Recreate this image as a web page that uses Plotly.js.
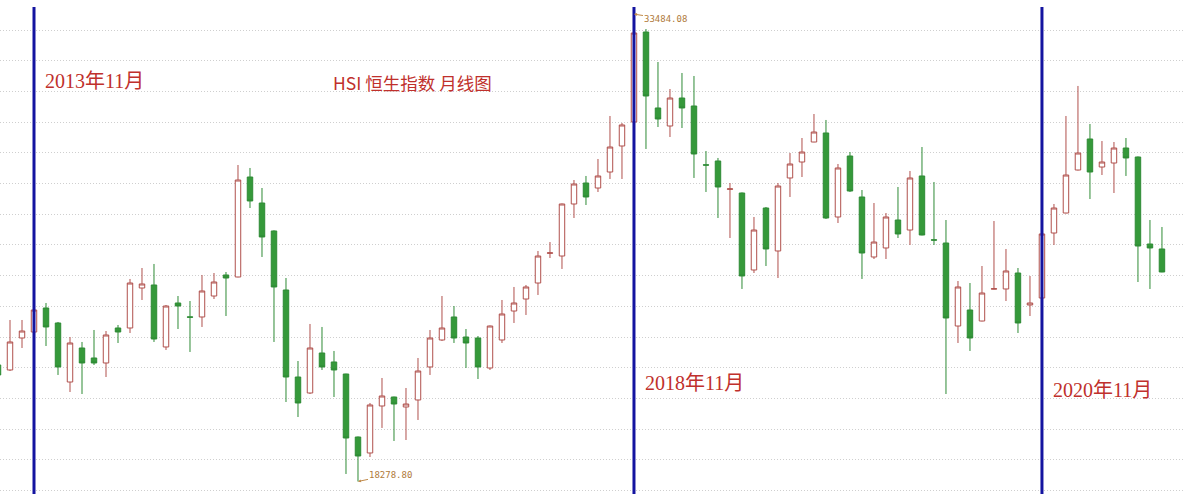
<!DOCTYPE html>
<html>
<head>
<meta charset="utf-8">
<script src="https://cdn.plot.ly/plotly-3.0.1.min.js"></script>
<style>html,body{margin:0;padding:0;background:#fff;}#chart{width:1185px;height:500px;}</style>
</head>
<body>
<div id="chart"></div>
<script>
// Monthly candles, HSI (Hang Seng Index)
const months = [
  '2013-08','2013-09','2013-10','2013-11','2013-12',
  '2014-01','2014-02','2014-03','2014-04','2014-05','2014-06','2014-07','2014-08','2014-09','2014-10','2014-11','2014-12',
  '2015-01','2015-02','2015-03','2015-04','2015-05','2015-06','2015-07','2015-08','2015-09','2015-10','2015-11','2015-12',
  '2016-01','2016-02','2016-03','2016-04','2016-05','2016-06','2016-07','2016-08','2016-09','2016-10','2016-11','2016-12',
  '2017-01','2017-02','2017-03','2017-04','2017-05','2017-06','2017-07','2017-08','2017-09','2017-10','2017-11','2017-12',
  '2018-01','2018-02','2018-03','2018-04','2018-05','2018-06','2018-07','2018-08','2018-09','2018-10','2018-11','2018-12',
  '2019-01','2019-02','2019-03','2019-04','2019-05','2019-06','2019-07','2019-08','2019-09','2019-10','2019-11','2019-12',
  '2020-01','2020-02','2020-03','2020-04','2020-05','2020-06','2020-07','2020-08','2020-09','2020-10','2020-11','2020-12',
  '2021-01','2021-02','2021-03','2021-04','2021-05','2021-06','2021-07','2021-08','2021-09'
];
const openV = [22194,22026,23101,23302,24109,23605,21622,22765,22429,22261,23437,23437,24781,24882,22799,24277,23810,23807,24512,25218,
  25151,28511,27637,26697,24714,21790,21253,22597,22295,21891,19774,19237,20816,21118,20783,21018,22127,23034,23807,23134,
  23101,22093,23034,24008,24411,24949,25950,25856,27604,28309,28141,28679,29553,30359,33383,30830,30225,31165,30897,28920,
  29049,28100,27973,25386,27469,26025,28478,29015,29687,29990,27167,29216,27839,25823,26126,27066,26730,28545,26400,26293,
  23504,24042,23672,24745,24748,25285,24210,24445,26629,27301,28746,29788,28847,28981,29485,29183,26259,26092];
const highV = [22362,23706,23706,24109,24277,23639,23134,22967,23370,23336,23538,25084,25453,25588,24210,24512,24344,25218,25285,25319,
  28914,28814,28141,26720,25117,22328,23572,23471,22665,21900,19790,20917,21757,21130,21421,22429,23370,24512,24176,23403,
  23168,23520,24378,24815,24882,26025,26326,27620,28410,28545,29116,30561,30326,33370,33484.08,32375,31468,32006,31905,29385,
  29150,28309,27990,27167,27503,28309,29317,29821,30628,30427,28948,29351,28074,27637,27301,28175,28713,29519,28343,27066,
  25016,24949,25520,27032,26092,25453,25184,26610,27604,30561,31570,30292,29720,29687,29821,29200,27066,26831];
const lowV = [21690,21992,22765,23269,22832,21858,21286,21219,22194,21790,22933,23269,24378,22967,22698,23403,22631,23471,24411,23840,
  25140,27469,25823,22967,20950,20446,21219,22026,21118,18531,18278.80,19102,20077,19640,19673,20346,21858,23000,22933,22093,
  21723,22026,22933,23605,23874,24546,25789,25420,27133,27570,28007,28444,28444,30340,29452,30191,29855,30157,28478,28007,
  27133,26461,24748,25285,25520,25117,27839,28511,29680,27100,26965,28007,25084,25755,25755,26461,26226,26550,26226,21219,
  22933,22665,23660,24740,24344,23269,23840,24430,26226,27290,28730,27771,28578,27973,28545,24982,24748,25310];
const closeV = [21858,22967,23336,24042,23471,22127,22933,22261,22261,23202,23302,24949,24916,23067,24176,24176,23800,24681,24983,25117,
  28410,27705,26495,24815,21790,20917,22765,22127,22026,19740,19136,20850,21152,20883,20883,21992,23101,23437,23101,22933,
  22127,23504,23908,24277,24815,25856,25960,27604,28276,27839,28545,29519,30259,33350,31233,30460,31165,30830,29284,28910,
  28175,28110,25185,26730,26092,28208,28948,29351,30023,27133,28814,28040,25957,26326,27167,26596,28478,26562,26390,23773,
  24815,23101,24613,24755,25353,23605,24277,26596,27469,28578,29317,28679,29015,29485,29150,26192,26126,25319];

const markMonths = ['2013-11','2018-01','2020-11'];
const markLabels = ['2013年11月','2018年11月','2020年11月'];
const titleText = 'HSI 恒生指数 月线图';
const lowLabel = '18278.80', lowMonth = '2016-02', lowValue = 18278.80;
const highLabel = '33484.08', highMonth = '2018-01', highValue = 33484.08;

const trace = {
  type: 'candlestick',
  x: months, open: openV, high: highV, low: lowV, close: closeV,
  increasing: {line: {color: '#b0504c', width: 1}, fillcolor: '#ffffff'},
  decreasing: {line: {color: '#2e8b35', width: 1}, fillcolor: '#35993a'},
  whiskerwidth: 0, hoverinfo: 'x+y', showlegend: false
};

const shapes = markMonths.map(m => ({
  type: 'line', xref: 'x', yref: 'paper', x0: m, x1: m, y0: 0.012, y1: 0.986,
  line: {color: '#1414a0', width: 3}
}));

const labelFont = {family: 'Liberation Serif, Noto Sans CJK SC, serif', size: 20, color: '#c0302c'};
const txt = (x, y, text, font) => ({xref: 'paper', yref: 'paper', x: x, y: y, text: text, showarrow: false,
  xanchor: 'center', yanchor: 'middle', font: font});
const annotations = [
  txt(0.0797, 0.838, markLabels[0], labelFont),
  txt(0.5857, 0.234, markLabels[1], labelFont),
  txt(0.9308, 0.22, markLabels[2], labelFont),
  txt(0.3477, 0.836, titleText, {family: 'Noto Sans CJK SC, sans-serif', size: 17.5, color: '#c0302c'}),
  {xref: 'x', yref: 'y', x: lowMonth, y: lowValue, text: lowLabel, showarrow: true, arrowhead: 2, arrowsize: 0.6,
   arrowwidth: 1, arrowcolor: '#c08a4a', ax: 33, ay: -7, font: {family: 'DejaVu Sans Mono, monospace', size: 9, color: '#b07a3a'}},
  {xref: 'x', yref: 'y', x: highMonth, y: highValue + 500, text: highLabel, showarrow: true, arrowhead: 2, arrowsize: 0.6,
   arrowwidth: 1, arrowcolor: '#c08a4a', ax: 32, ay: 5, font: {family: 'DejaVu Sans Mono, monospace', size: 9, color: '#b07a3a'}}
];

const layout = {
  width: 1185, height: 500,
  margin: {l: 0, r: 0, t: 0, b: 0},
  paper_bgcolor: '#ffffff', plot_bgcolor: '#ffffff',
  boxgap: 0.35,
  xaxis: {type: 'category', range: [0.1667, 98.92], showticklabels: false, showgrid: false, zeroline: false,
          showline: false, ticks: '', rangeslider: {visible: false}, fixedrange: true},
  yaxis: {range: [17657, 34458.6], showticklabels: false, showgrid: true, gridcolor: '#cfcfcf', griddash: '1px,2px',
          gridwidth: 1, tick0: 33450.5, dtick: 1031.95, zeroline: false, showline: false, ticks: '', fixedrange: true},
  shapes: shapes,
  annotations: annotations,
  showlegend: false
};

Plotly.newPlot('chart', [trace], layout, {displayModeBar: false, staticPlot: true});
</script>
</body>
</html>
